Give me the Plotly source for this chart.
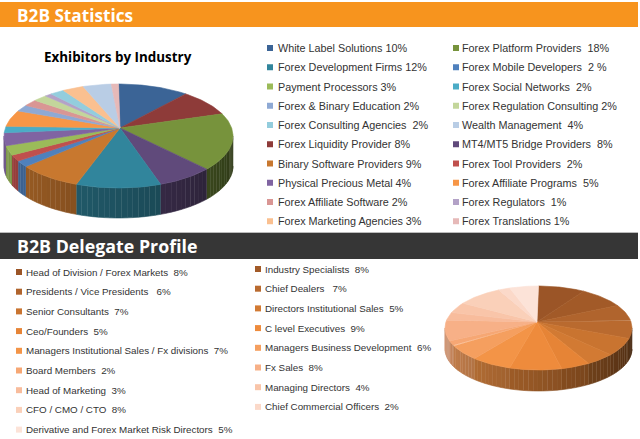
import numpy as np
import plotly.graph_objects as go

# ---------------- Data ----------------
# Exhibitors by Industry (slice order, clockwise from 12 o'clock)
ind_names = [
    "White Label Solutions", "Forex Liquidity Provider", "Forex Platform Providers",
    "MT4/MT5 Bridge Providers", "Forex Development Firms", "Binary Software Providers",
    "Forex Mobile Developers", "Forex Tool Providers", "Payment Processors",
    "Physical Precious Metal", "Forex Social Networks", "Forex Affiliate Programs",
    "Forex & Binary Education", "Forex Affiliate Software", "Forex Regulation Consulting",
    "Forex Regulators", "Forex Consulting Agencies", "Forex Marketing Agencies",
    "Wealth Management", "Forex Translations",
]
ind_values = [10, 8, 18, 8, 12, 9, 2, 2, 3, 4, 2, 5, 2, 2, 2, 1, 2, 3, 4, 1]
ind_labels = [
    "White Label Solutions 10%", "Forex Liquidity Provider 8%", "Forex Platform Providers\u00a0 18%",
    "MT4/MT5 Bridge Providers\u00a0 8%", "Forex Development Firms 12%", "Binary Software Providers 9%",
    "Forex Mobile Developers\u00a0 2 %", "Forex Tool Providers\u00a0 2%", "Payment Processors 3%",
    "Physical Precious Metal 4%", "Forex Social Networks\u00a0 2%", "Forex Affiliate Programs\u00a0 5%",
    "Forex & Binary Education 2%", "Forex Affiliate Software 2%", "Forex Regulation Consulting 2%",
    "Forex Regulators\u00a0 1%", "Forex Consulting Agencies\u00a0 2%", "Forex Marketing Agencies 3%",
    "Wealth Management\u00a0 4%", "Forex Translations 1%",
]
ind_colors = [
    "#3B6496", "#8E3B39", "#77933C", "#604A7B", "#31859C", "#C8782F",
    "#4F81BD", "#C0504D", "#9BBB59", "#8064A2", "#4BACC6", "#F79646",
    "#8EA9D4", "#D99694", "#C3D69B", "#B3A2C7", "#93CDDD", "#FAC090",
    "#B9CDE5", "#E6B9B8",
]

# Delegate Profile (slice order, clockwise from 12 o'clock)
del_names = [
    "Head of Division / Forex Markets", "Industry Specialists", "Presidents / Vice Presidents",
    "Chief Dealers", "Senior Consultants", "Directors Institutional Sales", "Ceo/Founders",
    "C level Executives", "Managers Institutional Sales / Fx divisions",
    "Managers Business Development", "Board Members", "Fx Sales", "Head of Marketing",
    "Managing Directors", "CFO / CMO / CTO", "Chief Commercial Officers",
    "Derivative and Forex Market Risk Directors",
]
del_values = [8, 8, 6, 7, 7, 5, 5, 9, 7, 6, 2, 8, 3, 4, 8, 2, 5]
del_labels = [
    "Head of Division / Forex Markets\u00a0 8%", "Industry Specialists\u00a0 8%",
    "Presidents / Vice Presidents\u00a0\u00a0 6%", "Chief Dealers\u00a0\u00a0 7%",
    "Senior Consultants\u00a0 7%", "Directors Institutional Sales\u00a0 5%",
    "Ceo/Founders\u00a0 5%", "C level Executives\u00a0 9%",
    "Managers Institutional Sales / Fx divisions\u00a0 7%", "Managers Business Development\u00a0 6%",
    "Board Members\u00a0 2%", "Fx Sales\u00a0 8%", "Head of Marketing\u00a0 3%",
    "Managing Directors\u00a0 4%", "CFO / CMO / CTO\u00a0 8%", "Chief Commercial Officers\u00a0 2%",
    "Derivative and Forex Market Risk Directors\u00a0 5%",
]
del_colors = [
    "#9B5527", "#A25A28", "#B0642D", "#B96A2F", "#C97430", "#D27A33", "#E68436",
    "#EE8B3C", "#F39447", "#F59F5F", "#F6A774", "#F7B087", "#F8BC9C", "#F9C5A9",
    "#FAD0B9", "#FBD9C9", "#FCE3D8",
]

W, H = 640, 439
fig = go.Figure()


def shade(hexc, f):
    h = hexc.lstrip("#")
    r, g, b = (int(h[i:i + 2], 16) for i in (0, 2, 4))
    return "rgb(%d,%d,%d)" % (r * f, g * f, b * f)


def poly(xs, ys, color):
    fig.add_trace(go.Scatter(
        x=xs, y=ys, mode="lines", fill="toself", fillcolor=color,
        line=dict(color=color, width=0.6), hoverinfo="skip", showlegend=False))


def pie3d(values, colors, cx, cy, rx, ry, ax, ay, depth):
    total = float(sum(values))
    bounds = np.concatenate([[0], np.cumsum(values)]) / total * 360.0
    # side walls (front half only)
    for i in range(len(values)):
        a, b = bounds[i], bounds[i + 1]
        lo, hi = max(a, 90.0), min(b, 270.0)
        if hi <= lo:
            continue
        n = int(np.ceil((hi - lo) / 3.0))
        edges = np.linspace(lo, hi, n + 1)
        for s0, s1 in zip(edges[:-1], edges[1:]):
            t = np.radians(np.linspace(s0, s1, 4))
            x = cx + rx * np.sin(t)
            y = cy - ry * np.cos(t)
            xs = np.concatenate([x, x[::-1]])
            ys = np.concatenate([y, (y + depth)[::-1]])
            f = 0.38 + 0.47 * (((s0 + s1) / 2 - 90.0) / 180.0)
            poly(xs, ys, shade(colors[i], f))
    # top faces
    for i in range(len(values)):
        a, b = bounds[i], bounds[i + 1]
        t = np.radians(np.linspace(a, b, max(3, int(b - a) + 2)))
        x = cx + rx * np.sin(t)
        y = cy - ry * np.cos(t)
        poly(np.concatenate([[ax], x, [ax]]), np.concatenate([[ay], y, [ay]]), colors[i])


pie3d(ind_values, ind_colors, 118.5, 136, 114.5, 52, 120, 128, 30)
pie3d(del_values, del_colors, 538.5, 328, 93.5, 42, 537, 322, 21)

FONT = "Liberation Sans, Arial, sans-serif"
annotations = []


def legend(labels, colors, pos, size):
    mx, my = [], []
    for lab, col, (xm, xt, yy) in zip(labels, colors, pos):
        mx.append(xm)
        my.append(yy)
        annotations.append(dict(x=xt, y=yy, xref="x", yref="y", text=lab, showarrow=False,
                                xanchor="left", yanchor="middle",
                                font=dict(family=FONT, size=size, color="#333333")))
    fig.add_trace(go.Scatter(x=mx, y=my, mode="markers",
                             marker=dict(symbol="square", size=6, color=colors, line=dict(width=0)),
                             hoverinfo="skip", showlegend=False))


# industry legend positions (slice order -> two columns)
ind_pos = []
for i in range(len(ind_values)):
    g, k = divmod(i, 4)
    row = g + (5 if k % 2 == 1 else 0)
    if k < 2:
        ind_pos.append((270, 276, 48 + 19.25 * row))
    else:
        ind_pos.append((456, 460, 48 + 19.25 * row))
legend(ind_labels, ind_colors, ind_pos, 10.8)

del_pos = []
for i in range(len(del_values)):
    row, col = divmod(i, 2)
    if col == 0:
        del_pos.append((19, 24, 272 + 19.7 * row))
    else:
        del_pos.append((258, 263, 269 + 19.7 * row))
legend(del_labels, del_colors, del_pos, 9.8)

annotations += [
    dict(x=15, y=15, xref="x", yref="y", text="<b>B2B Statistics</b>", showarrow=False,
         xanchor="left", yanchor="middle",
         font=dict(family="Open Sans", size=17.2, color="white")),
    dict(x=117.5, y=57, xref="x", yref="y", text="<b>Exhibitors by Industry</b>", showarrow=False,
         xanchor="center", yanchor="middle",
         font=dict(family="Open Sans", size=13.4, color="black")),
    dict(x=15, y=246, xref="x", yref="y", text="<b>B2B Delegate Profile</b>", showarrow=False,
         xanchor="left", yanchor="middle",
         font=dict(family="Open Sans", size=17.8, color="white")),
]

shapes = [
    dict(type="rect", xref="x", yref="y", x0=0, x1=638, y0=2, y1=27,
         fillcolor="#F7941E", line=dict(width=0), layer="below"),
    dict(type="rect", xref="x", yref="y", x0=0, x1=638, y0=233, y1=259,
         fillcolor="#363636", line=dict(width=0), layer="below"),
    dict(type="line", xref="x", yref="y", x0=0, x1=638, y0=232.5, y1=232.5,
         line=dict(color="#BBBBBB", width=1), layer="below"),
]

fig.update_layout(
    width=W, height=H, autosize=False,
    margin=dict(l=0, r=0, t=0, b=0),
    paper_bgcolor="white", plot_bgcolor="white",
    xaxis=dict(range=[0, W], visible=False, fixedrange=True),
    yaxis=dict(range=[H, 0], visible=False, fixedrange=True),
    showlegend=False,
    annotations=annotations, shapes=shapes,
)

fig.write_html("out.html",
               config={"displayModeBar": False, "staticPlot": True},
               post_script="document.body.style.margin='0';document.body.style.overflow='hidden';")
